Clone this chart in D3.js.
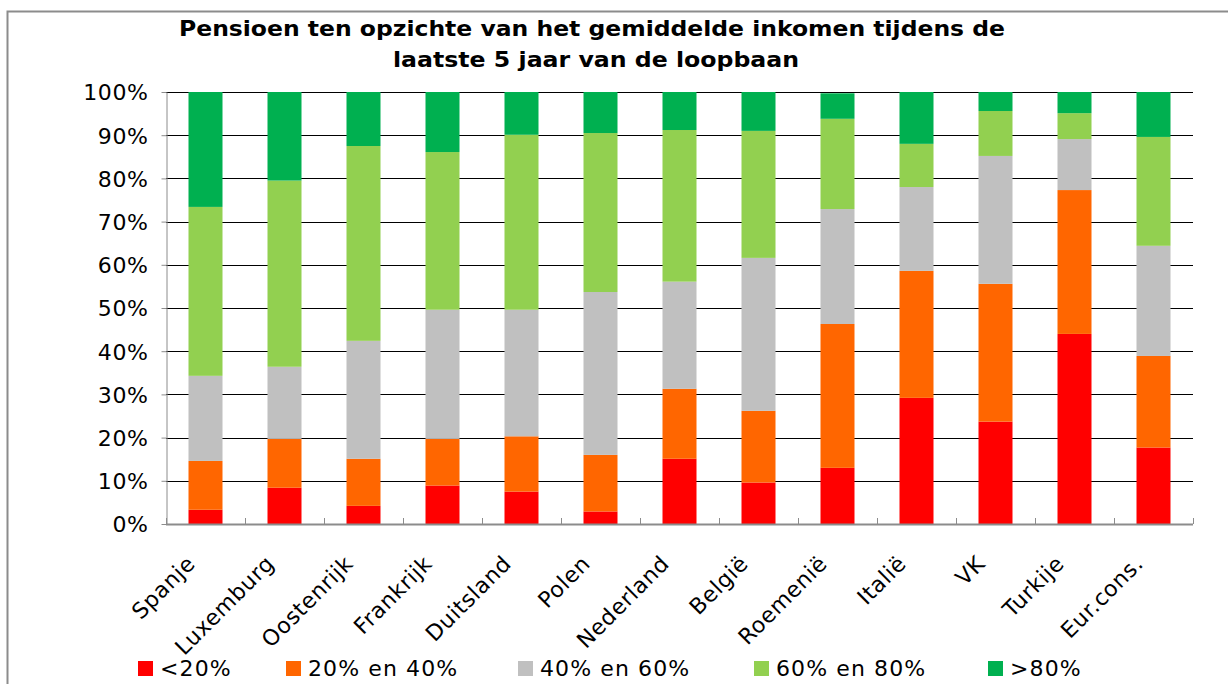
<!DOCTYPE html>
<html>
<head>
  <meta charset="utf-8">
  <title>Pensioen</title>
  <script src="https://cdn.jsdelivr.net/npm/d3@7/dist/d3.min.js"></script>
  <style>
    body { margin: 0; background: #fff; }
    text { font-family: 'DejaVu Sans', Verdana, sans-serif; fill: #000; }
  </style>
</head>
<body>
<script>
  let width = 1228;
  let height = 684;

  // data
  let landen = ['Spanje', 'Luxemburg', 'Oostenrijk', 'Frankrijk', 'Duitsland', 'Polen', 'Nederland',
    'België', 'Roemenië', 'Italië', 'VK', 'Turkije', 'Eur.cons.'];
  let reeksen = ['<20%', '20% en 40%', '40% en 60%', '60% en 80%', '>80%'];
  let kleuren = ['#ff0000', '#ff6600', '#c0c0c0', '#92d050', '#00b050'];
  let onder20 = [3.3, 8.4, 4.2, 8.9, 7.5, 2.9, 15.1, 9.6, 13.0, 29.2, 23.7, 44.0, 17.7];
  let van20tot40 = [11.3, 11.3, 10.9, 10.8, 12.8, 13.1, 16.2, 16.6, 33.3, 29.4, 31.9, 33.3, 21.2];
  let van40tot60 = [19.7, 16.7, 27.3, 29.9, 29.3, 37.7, 24.8, 35.4, 26.6, 19.4, 29.6, 11.8, 25.5];
  let van60tot80 = [39.1, 43.1, 45.1, 36.5, 40.5, 36.8, 35.1, 29.4, 20.9, 10.0, 10.4, 6.0, 25.2];
  let boven80 = [26.6, 20.5, 12.5, 13.9, 9.9, 9.5, 8.8, 9.0, 5.9, 12.0, 4.4, 4.9, 10.4];
  let yTicks = [0, 10, 20, 30, 40, 50, 60, 70, 80, 90, 100];

  let kolommen = [onder20, van20tot40, van40tot60, van60tot80, boven80];
  let rijen = landen.map(function (l, i) {
    let r = { land: l };
    reeksen.forEach(function (s, j) { r[s] = kolommen[j][i]; });
    return r;
  });

  let svg = d3.select('body').append('svg')
    .attr('width', width)
    .attr('height', height);

  // kader
  svg.append('path')
    .attr('d', 'M7.5,' + height + 'V11.5H' + width)
    .attr('fill', 'none')
    .attr('stroke', '#8c8c8c')
    .attr('stroke-width', 2);

  let links = 166, rechts = 1193, boven = 92, onder = 524;

  let x = d3.scaleBand().domain(landen).range([links, rechts]).padding(0);
  let y = d3.scaleLinear().domain([0, 100]).range([onder, boven]);
  let barW = 34;

  // titel (Verdana-breed nagebootst met textLength)
  let titel = svg.append('text')
    .attr('text-anchor', 'middle')
    .style('font-weight', 'bold')
    .style('font-size', '21px');
  titel.append('tspan').attr('x', 592).attr('y', 36)
    .attr('textLength', 826).attr('lengthAdjust', 'spacingAndGlyphs')
    .text('Pensioen ten opzichte van het gemiddelde inkomen tijdens de');
  titel.append('tspan').attr('x', 596).attr('y', 67)
    .attr('textLength', 406).attr('lengthAdjust', 'spacingAndGlyphs')
    .text('laatste 5 jaar van de loopbaan');

  // rasterlijnen
  svg.append('g')
    .selectAll('line')
    .data(yTicks.filter(function (d) { return d > 0; }))
    .enter()
    .append('line')
    .attr('x1', links)
    .attr('x2', rechts)
    .attr('y1', function (d) { return Math.round(y(d)) + 0.5; })
    .attr('y2', function (d) { return Math.round(y(d)) + 0.5; })
    .attr('stroke', '#000')
    .attr('stroke-width', 1);

  // staven
  let stack = d3.stack().keys(reeksen);
  let lagen = stack(rijen);
  svg.append('g')
    .selectAll('g')
    .data(lagen)
    .enter()
    .append('g')
    .attr('fill', function (d, i) { return kleuren[i]; })
    .selectAll('rect')
    .data(function (d) { return d; })
    .enter()
    .append('rect')
    .attr('x', function (d) { return x(d.data.land) + (x.bandwidth() - barW) / 2; })
    .attr('width', barW)
    .attr('y', function (d) { return y(d[1]); })
    .attr('height', function (d) { return y(d[0]) - y(d[1]); });

  // y-as
  let yAs = d3.axisLeft(y)
    .tickValues(yTicks)
    .tickSize(5)
    .tickSizeOuter(0)
    .tickPadding(13)
    .tickFormat(function (d) { return d + '%'; });
  let yGroep = svg.append('g')
    .attr('transform', 'translate(' + (links + 0.5) + ',0)')
    .call(yAs);
  yGroep.select('.domain').attr('stroke', '#8c8c8c');
  yGroep.selectAll('.tick line').attr('stroke', '#8c8c8c');
  yGroep.selectAll('text')
    .attr('font-family', null)
    .style('font-size', '22px')
    .style('letter-spacing', '0.6px')
    .attr('dy', '0.36em');

  // x-as
  let grenzen = d3.range(landen.length + 1).map(function (i) { return links + i * x.step(); });
  let xGroep = svg.append('g');
  xGroep.append('line')
    .attr('x1', links).attr('x2', rechts)
    .attr('y1', onder + 0.5).attr('y2', onder + 0.5)
    .attr('stroke', '#8c8c8c').attr('stroke-width', 2);
  xGroep.selectAll('line.tik')
    .data(grenzen)
    .enter()
    .append('line')
    .attr('class', 'tik')
    .attr('x1', function (d) { return Math.round(d) + 0.5; })
    .attr('x2', function (d) { return Math.round(d) + 0.5; })
    .attr('y1', onder - 6)
    .attr('y2', onder)
    .attr('stroke', '#8c8c8c');

  xGroep.selectAll('text')
    .data(landen)
    .enter()
    .append('text')
    .attr('text-anchor', 'end')
    .style('font-size', '22px')
    .style('letter-spacing', '0.6px')
    .attr('transform', function (d) {
      return 'translate(' + (x(d) + x.bandwidth() / 2 - 9) + ',' + 565 + ') rotate(-45)';
    })
    .text(function (d) { return d; });

  // legenda
  let legPos = [138, 286, 518, 754, 988];
  let leg = svg.append('g')
    .selectAll('g')
    .data(reeksen)
    .enter()
    .append('g')
    .attr('transform', function (d, i) { return 'translate(' + legPos[i] + ',661)'; });
  leg.append('rect')
    .attr('width', 15)
    .attr('height', 15)
    .attr('fill', function (d, i) { return kleuren[i]; });
  leg.append('text')
    .attr('x', 22)
    .attr('y', 14.5)
    .style('font-size', '22px')
    .style('letter-spacing', '1.1px')
    .text(function (d) { return d; });
</script>
</body>
</html>
